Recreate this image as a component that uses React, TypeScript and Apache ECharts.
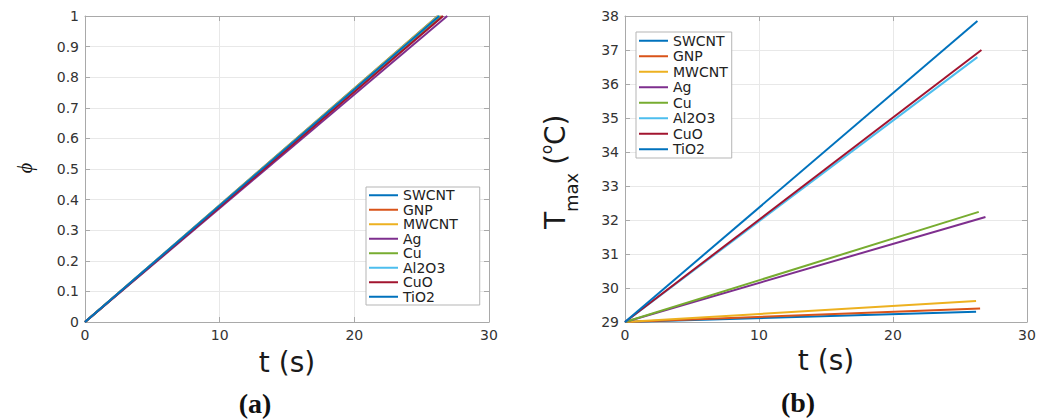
import React, { useEffect, useRef } from 'react';
import * as echarts from 'echarts';

const materials = ['SWCNT', 'GNP', 'MWCNT', 'Ag', 'Cu', 'Al2O3', 'CuO', 'TiO2'];
const colors = ['#0072BD', '#D95319', '#EDB120', '#7E2F8E', '#77AC30', '#4DBEEE', '#A2142F', '#0072BD'];
// time (s) at which each simulation ends (phi reaches 1)
const endTimes = [26.2, 26.5, 26.2, 26.9, 26.4, 26.3, 26.6, 26.3];
const phiStart = 0;
const phiEnd = [1, 1, 1, 1, 1, 1, 1, 1];
const tmaxStart = 29;
const tmaxEnd = [29.3, 29.4, 29.62, 32.09, 32.24, 36.79, 37.0, 37.85];

const FONT = '"DejaVu Sans", sans-serif';
const AXIS_COLOR = '#a9a9a9';
const GRID_COLOR = '#e8e8e8';

export default function App() {
  const ref = useRef<HTMLDivElement>(null);
  useEffect(() => {
    document.body.style.margin = '0';
    const chart = echarts.init(ref.current!, null, { renderer: 'svg' });

    const mainX = (gridIndex: number) => ({
      gridIndex, type: 'value', min: 0, max: 30, interval: 10, position: 'bottom',
      axisLine: { show: true, onZero: false, lineStyle: { color: AXIS_COLOR, width: 1 } },
      axisTick: { show: true, inside: true, length: 5, lineStyle: { color: AXIS_COLOR } },
      axisLabel: { fontFamily: FONT, fontSize: 14, color: '#333', margin: 6 },
      splitLine: { show: true, lineStyle: { color: GRID_COLOR, width: 1 } },
    });
    const boxX = (gridIndex: number) => ({
      gridIndex, type: 'value', min: 0, max: 30, interval: 10, position: 'top',
      axisLine: { show: true, onZero: false, lineStyle: { color: AXIS_COLOR, width: 1 } },
      axisTick: { show: true, inside: true, length: 5, lineStyle: { color: AXIS_COLOR } },
      axisLabel: { show: false }, splitLine: { show: false },
    });
    const mainY = (gridIndex: number, min: number, max: number, interval: number) => ({
      gridIndex, type: 'value', min, max, interval, position: 'left',
      axisLine: { show: true, onZero: false, lineStyle: { color: AXIS_COLOR, width: 1 } },
      axisTick: { show: true, inside: true, length: 5, lineStyle: { color: AXIS_COLOR } },
      axisLabel: { fontFamily: FONT, fontSize: 14, color: '#333', margin: 6 },
      splitLine: { show: true, lineStyle: { color: GRID_COLOR, width: 1 } },
    });
    const boxY = (gridIndex: number, min: number, max: number, interval: number) => ({
      gridIndex, type: 'value', min, max, interval, position: 'right',
      axisLine: { show: true, onZero: false, lineStyle: { color: AXIS_COLOR, width: 1 } },
      axisTick: { show: true, inside: true, length: 5, lineStyle: { color: AXIS_COLOR } },
      axisLabel: { show: false }, splitLine: { show: false },
    });

    const leftSeries = materials.map((name, i) => ({
      name, type: 'line', xAxisIndex: 0, yAxisIndex: 0, symbol: 'none',
      color: colors[i], lineStyle: { width: 2, color: colors[i] },
      data: [[0, phiStart], [endTimes[i], phiEnd[i]]],
    }));
    const rightSeries = materials.map((name, i) => ({
      name, type: 'line', xAxisIndex: 2, yAxisIndex: 2, symbol: 'none',
      color: colors[i], lineStyle: { width: 2, color: colors[i] },
      data: [[0, tmaxStart], [endTimes[i], tmaxEnd[i]]],
    }));

    const legendBase = {
      orient: 'vertical', icon: 'rect', itemWidth: 29, itemHeight: 2, itemGap: 0,
      backgroundColor: '#fff', borderColor: '#b5b5b5', borderWidth: 1,
      data: materials,
      selectedMode: false,
    };

    const tmaxParts = [
      { text: 'T', x: 0, y: 0, font: `28px ${FONT}` },
      { text: 'max', x: 17, y: 11, font: `18px ${FONT}` },
      { text: '(', x: 64, y: 0, font: `28px ${FONT}` },
      { text: 'o', x: 75, y: -15, font: `15px ${FONT}` },
      { text: 'C)', x: 84, y: 0, font: `28px ${FONT}` },
    ];

    const option: any = {
      animation: false,
      backgroundColor: '#fff',
      grid: [
        { left: 85, right: 1042 - 489, top: 16, bottom: 419 - 322 },
        { left: 625, right: 1042 - 1027, top: 16, bottom: 419 - 322 },
      ],
      xAxis: [mainX(0), boxX(0), mainX(1), boxX(1)],
      yAxis: [mainY(0, 0, 1, 0.1), boxY(0, 0, 1, 0.1), mainY(1, 29, 38, 1), boxY(1, 29, 38, 1)],
      legend: [
        {
          ...legendBase, left: 366, top: 187, padding: [1, 22, 1, 3],
          textStyle: { fontFamily: FONT, fontSize: 14, color: '#222', lineHeight: 14.5 },
        },
        {
          ...legendBase, left: 636, top: 32, padding: [1, 4, 1, 3],
          textStyle: { fontFamily: FONT, fontSize: 14, color: '#222', lineHeight: 15.5 },
        },
      ],
      series: [...leftSeries, ...rightSeries],
      graphic: [
        {
          type: 'text', x: 287, y: 362,
          style: { text: 't (s)', font: `28px ${FONT}`, fill: '#1a1a1a', align: 'center', verticalAlign: 'middle' },
        },
        {
          type: 'text', x: 826, y: 360,
          style: { text: 't (s)', font: `28px ${FONT}`, fill: '#1a1a1a', align: 'center', verticalAlign: 'middle' },
        },
        {
          type: 'text', x: 255, y: 403,
          style: { text: '(a)', font: 'bold 28px "Liberation Serif", serif', fill: '#111', align: 'center', verticalAlign: 'middle' },
        },
        {
          type: 'text', x: 798, y: 402,
          style: { text: '(b)', font: 'bold 28px "Liberation Serif", serif', fill: '#111', align: 'center', verticalAlign: 'middle' },
        },
        {
          type: 'text', x: 25, y: 168, rotation: Math.PI / 2,
          style: { text: 'ϕ', font: 'italic 20px "Liberation Serif", serif', fill: '#111', align: 'center', verticalAlign: 'middle' },
        },
        {
          type: 'group', x: 569, y: 229, rotation: Math.PI / 2,
          children: tmaxParts.map((p) => ({
            type: 'text', x: p.x, y: p.y,
            style: { text: p.text, font: p.font, fill: '#1a1a1a', align: 'left', verticalAlign: 'bottom' },
          })),
        },
      ],
    };
    chart.setOption(option);
    return () => chart.dispose();
  }, []);
  return <div ref={ref} style={{ width: 1042, height: 419 }} />;
}
